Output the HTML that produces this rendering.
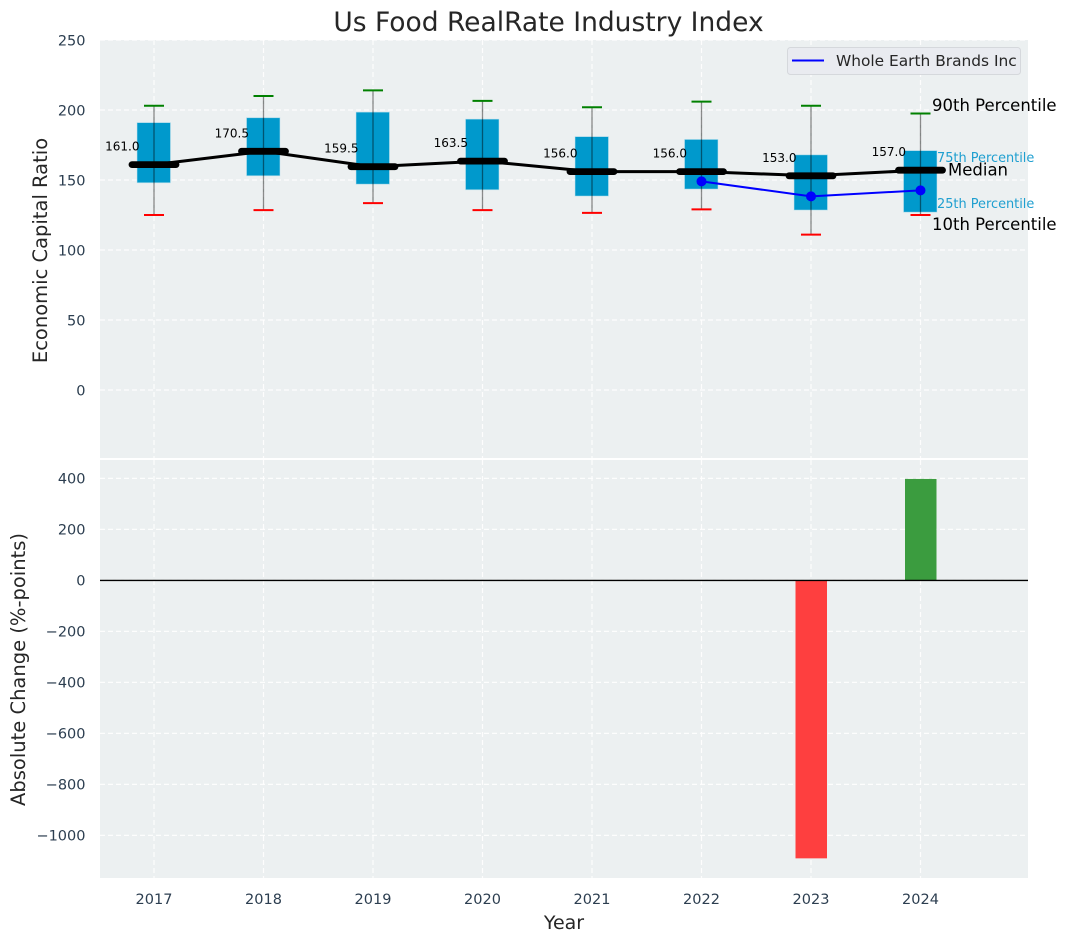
<!DOCTYPE html>
<html lang="en">
<head>
<meta charset="utf-8">
<title>Us Food RealRate Industry Index</title>
<style>
html,body{margin:0;padding:0;background:#fff;width:1067px;height:942px;overflow:hidden}
svg{display:block;font-family:"DejaVu Sans","Liberation Sans",sans-serif}
</style>
</head>
<body>
<svg id="chart" xmlns="http://www.w3.org/2000/svg" width="1067" height="942" viewBox="0 0 1067 942">
  <rect x="100" y="40" width="928" height="418" fill="#ecf0f1"/>
  <rect x="100" y="460" width="928" height="418" fill="#ecf0f1"/>
  <g id="grid"></g>
  <g id="marks"></g>
  <g id="labels"></g>
  <text x="548.5" y="31" text-anchor="middle" font-size="26.5" fill="#262626">Us Food RealRate Industry Index</text>
  <text x="564" y="929" text-anchor="middle" font-size="19" fill="#262626">Year</text>
  <text transform="translate(47 250.5) rotate(-90)" text-anchor="middle" font-size="19.5" fill="#262626">Economic Capital Ratio</text>
  <text transform="translate(25 669.5) rotate(-90)" text-anchor="middle" font-size="19.5" fill="#262626">Absolute Change (%-points)</text>
  <g>
    <rect x="787.5" y="47.5" width="233" height="27" rx="3" fill="#e9ebf0" stroke="#d5d8dc" stroke-width="1"/>
    <line x1="792" y1="60.5" x2="824" y2="60.5" stroke="#0000ff" stroke-width="2"/>
    <text x="836" y="66" font-size="15.4" fill="#262626">Whole Earth Brands Inc</text>
  </g>
  <g>
    <text x="932" y="111" font-size="16.5" fill="#000">90th Percentile</text>
    <text x="937" y="162" font-size="12.9" fill="#1f9fd0">75th Percentile</text>
    <text x="948" y="175.5" font-size="16.5" fill="#000">Median</text>
    <text x="937" y="208" font-size="12.9" fill="#1f9fd0">25th Percentile</text>
    <text x="932" y="230" font-size="16.5" fill="#000">10th Percentile</text>
  </g>
</svg>
<script>
const years = [2017, 2018, 2019, 2020, 2021, 2022, 2023, 2024];
const p90 = [203, 210, 214, 206.5, 202, 206, 203, 197.5];
const p75 = [191, 194.5, 198.5, 193.5, 181, 179, 168, 171];
const medians = [161.0, 170.5, 159.5, 163.5, 156.0, 156.0, 153.0, 157.0];
const p25 = [148, 153, 147, 143, 138.5, 143.5, 128.5, 127];
const p10 = [125, 128.5, 133.5, 128.5, 126.5, 129, 111, 125];
const companyYears = [2022, 2023, 2024];
const companyValues = [149, 138.3, 142.6];
const changeYears = [2023, 2024];
const changeValues = [-1090, 398];
const topTicks = [0, 50, 100, 150, 200, 250];
const bottomTicks = [-1000, -800, -600, -400, -200, 0, 200, 400];

const NS = 'http://www.w3.org/2000/svg';
const xScale = y => 154 + (y - 2017) * 109.5;
const yTop = v => 390 - v * 1.4;
const yBottom = v => 580.4 - v * 0.255;
const gridG = document.getElementById('grid');
const marksG = document.getElementById('marks');
const labelsG = document.getElementById('labels');

function make(parent, tag, attrs) {
  const el = document.createElementNS(NS, tag);
  for (const k in attrs) el.setAttribute(k, attrs[k]);
  parent.appendChild(el);
  return el;
}
const gridStyle = {stroke: '#ffffff', 'stroke-width': 1.2, 'stroke-dasharray': '5 3', opacity: 0.9};

years.forEach(y => {
  const x = xScale(y);
  const a = make(gridG, 'line', Object.assign({x1: x, x2: x, y1: 40, y2: 458}, gridStyle));
  
  
  const b = make(gridG, 'line', Object.assign({x1: x, x2: x, y1: 460, y2: 878}, gridStyle));
  
  
  const t = make(labelsG, 'text', {x: x, y: 904, 'text-anchor': 'middle', 'font-size': 14.5, fill: '#2c3e50'});
  
  
  t.textContent = y;
});
topTicks.forEach(v => {
  const p = yTop(v);
  const l = make(gridG, 'line', Object.assign({x1: 100, x2: 1028, y1: p, y2: p}, gridStyle));
  
  
  const t = make(labelsG, 'text', {x: 85.5, y: p + 5.3, 'text-anchor': 'end', 'font-size': 14.5, fill: '#2c3e50'});
  
  
  t.textContent = v;
});
bottomTicks.forEach(v => {
  const p = yBottom(v);
  const l = make(gridG, 'line', Object.assign({x1: 100, x2: 1028, y1: p, y2: p}, gridStyle));
  
  
  const t = make(labelsG, 'text', {x: 85.5, y: p + 5.3, 'text-anchor': 'end', 'font-size': 14.5, fill: '#2c3e50'});
  
  
  t.textContent = String(v).replace('-', '\u2212');
});

years.forEach((y, i) => {
  const x = xScale(y);
  const box = make(marksG, 'rect', {x: x - 17, y: yTop(p75[i]), width: 33.5, height: yTop(p25[i]) - yTop(p75[i]), fill: '#0099cc', stroke: '#c4e4ee', 'stroke-width': 0.8, 'stroke-opacity': 0.7});
  
  
  const w = make(marksG, 'line', {x1: x, x2: x, y1: yTop(p90[i]), y2: yTop(p10[i]), stroke: '#000', 'stroke-opacity': 0.45, 'stroke-width': 1.3});
  
  
  const hi = make(marksG, 'line', {x1: x - 10, x2: x + 10, y1: yTop(p90[i]), y2: yTop(p90[i]), stroke: '#008000', 'stroke-width': 2});
  
  
  const lo = make(marksG, 'line', {x1: x - 10, x2: x + 10, y1: yTop(p10[i]), y2: yTop(p10[i]), stroke: '#ff0000', 'stroke-width': 2});
  
  
});

const medianLine = make(marksG, 'polyline', {points: years.map((y, i) => xScale(y) + ',' + yTop(medians[i])).join(' '), fill: 'none', stroke: '#000', 'stroke-width': 3});



years.forEach((y, i) => {
  const x = xScale(y);
  const m = make(marksG, 'line', {x1: x - 22, x2: x + 22, y1: yTop(medians[i]), y2: yTop(medians[i]), stroke: '#000', 'stroke-width': 6.8, 'stroke-linecap': 'round'});
  
  
  const t = make(marksG, 'text', {x: x - 14.5, y: yTop(medians[i]) - 14, 'text-anchor': 'end', 'font-size': 12, fill: '#000'});
  
  
  t.textContent = medians[i].toFixed(1);
});

const companyLine = make(marksG, 'polyline', {points: companyYears.map((y, i) => xScale(y) + ',' + yTop(companyValues[i])).join(' '), fill: 'none', stroke: '#0000ff', 'stroke-width': 2});


companyYears.forEach((y, i) => {
  const c = make(marksG, 'circle', {cx: xScale(y), cy: yTop(companyValues[i]), r: 5, fill: '#0000ff'});
  
  
});

changeYears.forEach((y, i) => {
  const v = changeValues[i];
  const top = Math.min(yBottom(v), yBottom(0));
  const h = Math.abs(yBottom(v) - yBottom(0));
  const r = make(marksG, 'rect', {x: xScale(y) - 15.5, y: top, width: 31.5, height: h, fill: v < 0 ? '#fe3f3f' : '#3b9c3f'});
  
  
});
const zero = make(marksG, 'line', {x1: 100, x2: 1028, y1: yBottom(0), y2: yBottom(0), stroke: '#000', 'stroke-width': 1.4});


</script>
</body>
</html>
